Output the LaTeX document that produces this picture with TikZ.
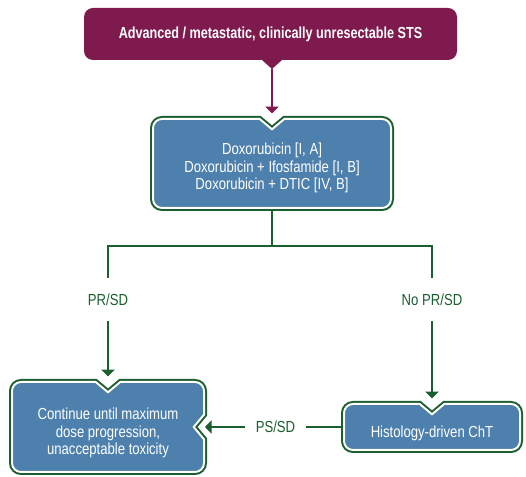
\documentclass[tikz,border=0pt]{standalone}
\usepackage{fontspec}
\setmainfont{Liberation Sans}[FakeStretch=0.82]
\newfontfamily\titlefont{Liberation Sans}[FakeStretch=0.79]
\usetikzlibrary{arrows.meta}

\definecolor{stspurple}{HTML}{7F1A4E}
\definecolor{boxblue}{HTML}{4E80AD}
\definecolor{linegreen}{HTML}{1B5E30}

% 切り込み付きの箱 (青の塗り, 緑の外枠, 白の内枠)
\newcommand{\notchbox}[1]{%
  \fill [boxblue] #1;
  \draw [linegreen, line width=3pt] #1;
  \begin{scope}
    \clip #1;
    \draw [white, line width=3pt] #1;
  \end{scope}}

\begin{document}
\begin{tikzpicture}[x=0.75pt, y=0.75pt,
    every node/.style={font=\fontsize{12}{13}\selectfont},
    bluebox/.style={inner sep=0pt, outer sep=0pt},
    boxtext/.style={align=center, text=white, inner sep=0pt, yshift=-4.5pt},
    branch/.style={inner sep=0pt, outer sep=0pt, text=linegreen},
    flowline/.style={linegreen, line width=1.1pt},
    flowarrow/.style={-{Triangle[width=10pt,length=5pt]}, shorten >=3.5pt}]

    \useasboundingbox (0,0) rectangle (526,477);

    % 上の箱
    \fill [stspurple] (93,469) -- (448,469) arc [start angle=90, end angle=0, radius=9]
      -- (457,426) arc [start angle=0, end angle=-90, radius=9]
      -- (282,417) -- (272,408) -- (262,417)
      -- (93,417) arc [start angle=-90, end angle=-180, radius=9]
      -- (84,460) arc [start angle=180, end angle=90, radius=9] -- cycle;
    \node [font=\titlefont\bfseries\fontsize{12}{13}\selectfont, text=white] (title) at (270.5,443)
      {Advanced / metastatic, clinically unresectable STS};
    \coordinate (titletip) at (272,408);

    % 化学療法の箱
    \notchbox{(162,359) -- (260,359) -- (272,349) -- (284,359)
      -- (382,359) arc [start angle=90, end angle=0, radius=10]
      -- (392,278) arc [start angle=0, end angle=-90, radius=10]
      -- (162,268) arc [start angle=-90, end angle=-180, radius=10]
      -- (152,349) arc [start angle=180, end angle=90, radius=10] -- cycle}
    \node [bluebox, minimum width=180pt, minimum height=68.25pt,
      label={[boxtext, yshift=1pt]center:{Doxorubicin [I, A]\\Doxorubicin + Ifosfamide [I, B]\\Doxorubicin + DTIC [IV, B]}}]
      (drug) at (272,313.5) {};

    \draw [stspurple, line width=1.1pt, flowarrow] (titletip) -- (drug.north);

    % 左下の箱
    \notchbox{(21,96) -- (96,96) -- (108,86) -- (120,96)
      -- (195,96) arc [start angle=90, end angle=0, radius=10]
      -- (205,62) -- (195,50) -- (205,38)
      -- (205,14) arc [start angle=0, end angle=-90, radius=10]
      -- (21,4) arc [start angle=-90, end angle=-180, radius=10]
      -- (11,86) arc [start angle=180, end angle=90, radius=10] -- cycle}
    \node [bluebox, minimum width=145.5pt, minimum height=69pt,
      label={[boxtext]center:{Continue until maximum\\dose progression,\\unacceptable toxicity}}]
      (cont) at (108,50) {};

    % 右下の箱
    \notchbox{(353,74) -- (420,74) -- (432,64) -- (444,74)
      -- (511,74) arc [start angle=90, end angle=0, radius=10]
      -- (521,36) arc [start angle=0, end angle=-90, radius=10]
      -- (353,26) arc [start angle=-90, end angle=-180, radius=10]
      -- (343,64) arc [start angle=180, end angle=90, radius=10] -- cycle}
    \node [bluebox, minimum width=133.5pt, minimum height=36pt,
      label={[boxtext]center:Histology-driven ChT}]
      (chem) at (432,50) {};

    % 分岐
    \node [branch, minimum height=32.25pt] (prsd) at (108,177.5) {PR/SD};
    \node [branch, minimum height=32.25pt] (noprsd) at (432,177.5) {No PR/SD};
    \coordinate (split) at (272,231);
    \draw [flowline] (drug.south) -- (split);
    \draw [flowline] (prsd.north) |- (split) -| (noprsd.north);
    \draw [flowline, flowarrow] (prsd.south) -- (cont.north);
    \draw [flowline, flowarrow] (noprsd.south) -- (chem.north);

    % 右から左へ
    \node [branch, minimum width=45.75pt] (pssd) at (275.5,50) {PS/SD};
    \draw [flowline] (chem.west) -- (pssd.east);
    \draw [flowline, flowarrow, shorten >=0pt] (pssd.west) -- (cont.east);

\end{tikzpicture}
\end{document}
